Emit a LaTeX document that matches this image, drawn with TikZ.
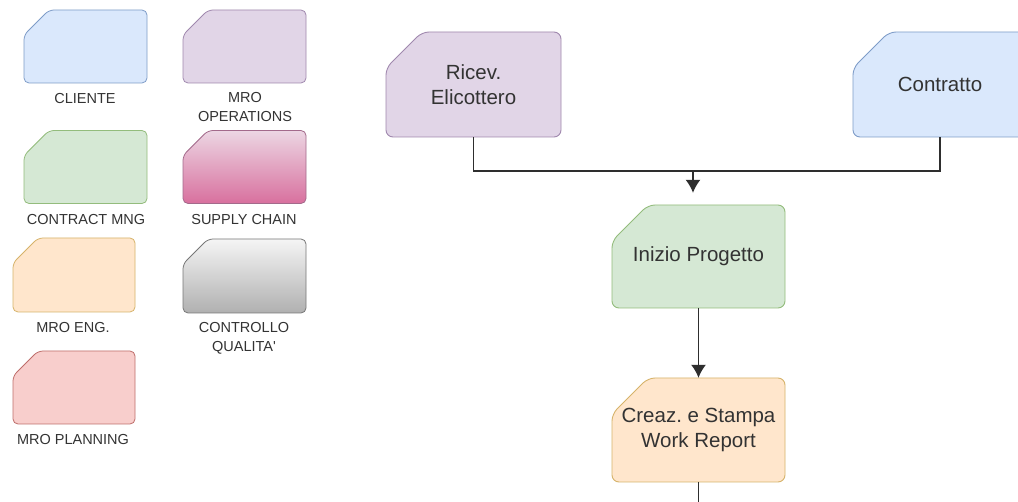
\documentclass[tikz,border=0pt]{standalone}
\usepackage{fontspec}
\setmainfont{Liberation Sans}
\usetikzlibrary{arrows.meta}
\frenchspacing

% card outline with a cut corner top left, plus a named node for the text
% #1 outline style, #2 text style, #3 name, #4 x, #5 y, #6 width, #7 height, #8 cut, #9 text
\newcommand{\cardnode}[9]{%
    \path[#1] (#4-#6/2,#5-#7/2+#8) -- (#4-#6/2+#8,#5-#7/2) -- (#4+#6/2,#5-#7/2)
        -- (#4+#6/2,#5+#7/2) -- (#4-#6/2,#5+#7/2) -- cycle;
    \node[#2, minimum width=#6, minimum height=#7, inner sep=0pt] (#3) at (#4,#5) {#9};
}

\begin{document}
\begin{tikzpicture}[x=1pt, y=-1pt,
        legend card/.style = {rounded corners=5pt, line width=0.8pt},
        flow card/.style = {rounded corners=7pt, line width=0.9pt},
        flow text/.style = {align=center, text=text_gray, font=\fontsize{20.5}{25}\selectfont},
        legend text/.style = {align=center, text=text_gray, font=\fontsize{14.5}{19}\selectfont},
        link/.style = {line width=1.5pt, draw=link_gray},
        flowarrow/.style = {link, -{Latex[length=13pt,width=15pt]}}
    ]
        \definecolor{text_gray}{HTML}{333333}
        \definecolor{link_gray}{HTML}{2E2E2E}
        \definecolor{fill_blue}{HTML}{DAE8FC}
        \definecolor{line_blue}{HTML}{7E9CC8}
        \definecolor{fill_purple}{HTML}{E1D5E7}
        \definecolor{line_purple}{HTML}{A088AE}
        \definecolor{fill_green}{HTML}{D5E8D4}
        \definecolor{line_green}{HTML}{93BC7C}
        \definecolor{fill_orange}{HTML}{FFE6CC}
        \definecolor{line_orange}{HTML}{D6B36A}
        \definecolor{fill_red}{HTML}{F8CECC}
        \definecolor{line_red}{HTML}{BE6E6B}
        \definecolor{pink_top}{HTML}{ECD6E3}
        \definecolor{pink_bottom}{HTML}{D8709E}
        \definecolor{line_pink}{HTML}{A36A8B}
        \definecolor{gray_top}{HTML}{F5F5F5}
        \definecolor{gray_bottom}{HTML}{B0B0B0}
        \definecolor{line_gray}{HTML}{777777}

        \useasboundingbox[fill=white] (0,0) rectangle (1018,502);

        % legend
        \cardnode{legend card, fill=fill_blue, draw=line_blue}{legend text}{cliente}{85.5}{46.5}{123}{73}{25}{}
        \node[legend text] (cliente label) at (85,99) {CLIENTE};
        \cardnode{legend card, fill=fill_purple, draw=line_purple}{legend text}{mroops}{244.5}{46.5}{123}{73}{25}{}
        \node[legend text] (mroops label) at (245,107.5) {MRO\\OPERATIONS};
        \cardnode{legend card, fill=fill_green, draw=line_green}{legend text}{contract}{85.5}{167}{123}{73}{25}{}
        \node[legend text] (contract label) at (86,220) {CONTRACT MNG};
        \cardnode{legend card, top color=pink_top, bottom color=pink_bottom, draw=line_pink}{legend text}{supply}{244.5}{167}{123}{73}{25}{}
        \node[legend text] (supply label) at (244,220) {SUPPLY CHAIN};
        \cardnode{legend card, fill=fill_orange, draw=line_orange}{legend text}{mroeng}{74}{275}{122}{74}{25}{}
        \node[legend text] (mroeng label) at (73,328) {MRO ENG.};
        \cardnode{legend card, top color=gray_top, bottom color=gray_bottom, draw=line_gray}{legend text}{qualita}{244.5}{276}{123}{74}{25}{}
        \node[legend text] (qualita label) at (244,338) {CONTROLLO\\QUALITA\textquotesingle};
        \cardnode{legend card, fill=fill_red, draw=line_red}{legend text}{planning}{74}{387.5}{122}{73}{25}{}
        \node[legend text] (planning label) at (73,440) {MRO PLANNING};

        % main flow
        \cardnode{flow card, fill=fill_purple, draw=line_purple}{flow text}{ricev}{473.5}{84.5}{175}{105}{36}{Ricev.\\Elicottero}
        \cardnode{flow card, fill=fill_blue, draw=line_blue}{flow text}{contratto}{940}{84.5}{174}{105}{36}{Contratto}
        \cardnode{flow card, fill=fill_green, draw=line_green}{flow text}{inizio}{698.5}{256.5}{173}{103}{36}{Inizio Progetto}
        \cardnode{flow card, fill=fill_orange, draw=line_orange}{flow text}{creaz}{698.5}{430}{173}{104}{36}{Creaz. e Stampa\\Work Report}

        % connectors
        \coordinate (join) at (693,171);
        \coordinate (next) at (698.5,520);
        \draw[link] (ricev.south) |- (join) -| (contratto.south);
        \draw[flowarrow, shorten >=12pt] (join) -- (join |- inizio.north);
        \draw[flowarrow] (inizio.south) -- (creaz.north);
        \draw[link] (creaz.south) -- (next);
    \end{tikzpicture}
\end{document}
